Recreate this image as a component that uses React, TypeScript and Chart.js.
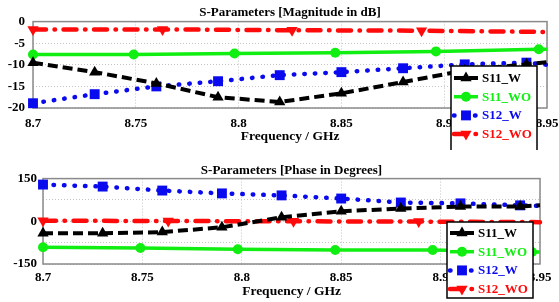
import { useEffect, useRef } from 'react';
import { Chart, registerables } from 'chart.js';

Chart.register(...registerables);

// ---------- data ----------
const freqW = [8.7, 8.73, 8.76, 8.79, 8.82, 8.85, 8.88, 8.91, 8.94, 8.95];
const freqWO11 = [8.7, 8.749, 8.798, 8.847, 8.896, 8.946, 8.95];
const freqWO12 = [8.7, 8.763, 8.826, 8.889, 8.95];

const magS11W = [-9.5, -11.7, -14.3, -17.5, -18.6, -16.6, -14.0, -11.3, -9.9, -9.4];
const magS11WO = [-7.6, -7.6, -7.4, -7.2, -6.9, -6.4, -6.4];
const magS12W = [-18.9, -16.8, -15.0, -13.8, -12.4, -11.7, -10.8, -9.9, -9.5, -10.0];
const magS12WO = [-1.8, -1.8, -2.0, -2.1, -2.4];

const phS11W = [-42, -42, -38, -21, 14, 35, 45, 52, 52, 56];
const phS11WO = [-91, -94, -98, -101, -101, -108, -108];
const phS12W = [129, 122, 108, 98, 91, 80, 66, 63, 56, 54];
const phS12WO = [2, 1, 0, -1, -3];

const freqTicks = [8.7, 8.75, 8.8, 8.85, 8.9, 8.95];
const magTicks = [0, -5, -10, -15, -20];
const phaseTickLabels = [150, 0, -150];

const seriesNames = ['S11_W', 'S11_WO', 'S12_W', 'S12_WO'];
const titleMag = 'S-Parameters [Magnitude in dB]';
const titlePhase = 'S-Parameters [Phase in Degrees]';
const xTitle = 'Frequency / GHz';

// ---------- styles ----------
const FONT = '"Liberation Serif", "Times New Roman", serif';
const BLACK = '#000000';
const GREEN = '#11ee11';
const BLUE = '#0a0aee';
const RED = '#ff0a0a';

const pts = (xs: number[], ys: number[]) => xs.map((x, i) => ({ x, y: ys[i] }));

function makeDatasets(s11w: number[], s11wo: number[], s12w: number[], s12wo: number[]) {
  const lastless = (r: number) => (c: any) => (c.dataIndex === c.dataset.data.length - 1 ? 0 : r);
  return [
    {
      label: seriesNames[0], data: pts(freqW, s11w), borderColor: BLACK, backgroundColor: BLACK,
      borderWidth: 4, borderDash: [10, 5], borderCapStyle: 'butt',
      pointStyle: 'triangle', pointRadius: lastless(6.5), pointRotation: 0, mr: 6.5,
    },
    {
      label: seriesNames[1], data: pts(freqWO11, s11wo), borderColor: GREEN, backgroundColor: GREEN,
      borderWidth: 3.5, borderDash: [], borderCapStyle: 'butt',
      pointStyle: 'circle', pointRadius: lastless(5), pointRotation: 0, mr: 5,
    },
    {
      label: seriesNames[2], data: pts(freqW, s12w), borderColor: BLUE, backgroundColor: BLUE,
      borderWidth: 4.5, borderDash: [0.5, 10], borderCapStyle: 'round',
      pointStyle: 'rect', pointRadius: lastless(7), pointRotation: 0, mr: 7,
    },
    {
      label: seriesNames[3], data: pts(freqWO12, s12wo), borderColor: RED, backgroundColor: RED,
      borderWidth: 4.5, borderDash: [13, 8.5, 0.5, 8.5], borderCapStyle: 'round',
      pointStyle: 'triangle', pointRadius: lastless(6.5), pointRotation: 180, mr: 6.5,
    },
  ].map((d) => ({ ...d, tension: 0, fill: false, clip: false, pointBorderWidth: 0, pointBorderColor: d.borderColor, pointBackgroundColor: d.borderColor }));
}

function drawMarker(ctx: CanvasRenderingContext2D, style: string, x: number, y: number, r: number, rot: number) {
  ctx.beginPath();
  if (style === 'circle') {
    ctx.arc(x, y, r, 0, Math.PI * 2);
  } else if (style === 'rect') {
    const s = Math.SQRT1_2 * r;
    ctx.rect(x - s, y - s, 2 * s, 2 * s);
  } else {
    let rad = (rot * Math.PI) / 180;
    ctx.moveTo(x + Math.sin(rad) * r, y - Math.cos(rad) * r);
    rad += (2 * Math.PI) / 3;
    ctx.lineTo(x + Math.sin(rad) * r, y - Math.cos(rad) * r);
    rad += (2 * Math.PI) / 3;
    ctx.lineTo(x + Math.sin(rad) * r, y - Math.cos(rad) * r);
    ctx.closePath();
  }
  ctx.fill();
}

const framePlugin = {
  id: 'plotFrame',
  beforeDatasetsDraw(chart: any) {
    const { ctx, chartArea: a } = chart;
    ctx.save();
    ctx.strokeStyle = '#8a8a8a';
    ctx.lineWidth = 1.5;
    ctx.setLineDash([]);
    ctx.strokeRect(a.left, a.top, a.right - a.left, a.bottom - a.top);
    ctx.restore();
  },
};

const boxLegendPlugin = {
  id: 'boxLegend',
  afterDraw(chart: any, _args: any, o: any) {
    const ctx: CanvasRenderingContext2D = chart.ctx;
    ctx.save();
    ctx.fillStyle = '#ffffff';
    ctx.fillRect(o.x, o.y, o.w, o.h);
    ctx.strokeStyle = '#000000';
    ctx.lineWidth = 1.5;
    ctx.setLineDash([]);
    ctx.strokeRect(o.x, o.y, o.w, o.h);
    chart.data.datasets.forEach((ds: any, i: number) => {
      const cy = o.y + o.first + i * o.rowH;
      const x0 = o.x + 3;
      const x1 = o.x + 27;
      ctx.strokeStyle = ds.borderColor;
      ctx.lineWidth = ds.borderWidth;
      ctx.lineCap = ds.borderCapStyle;
      ctx.setLineDash(ds.borderDash || []);
      ctx.beginPath();
      ctx.moveTo(x0, cy);
      ctx.lineTo(x1, cy);
      ctx.stroke();
      ctx.setLineDash([]);
      ctx.fillStyle = ds.borderColor;
      drawMarker(ctx, ds.pointStyle, (x0 + x1) / 2, cy, ds.mr, ds.pointRotation);
      ctx.font = `bold 13px ${FONT}`;
      ctx.textAlign = 'left';
      ctx.textBaseline = 'middle';
      ctx.fillText(ds.label, o.x + 31, cy + 0.5);
    });
    ctx.restore();
  },
};

type PanelCfg = {
  width: number;
  height: number;
  title: string;
  titlePad: { top: number; bottom: number };
  yMin: number;
  yMax: number;
  yStep: number;
  yLabels: number[];
  yAxisWidth: number;
  yPad: number;
  xAxisHeight: number;
  xPad: number;
  xTitlePad: number;
  rightPad: number;
  legend: { x: number; y: number; w: number; h: number; first: number; rowH: number };
  datasets: any[];
};

function Panel({ cfg }: { cfg: PanelCfg }) {
  const ref = useRef<HTMLCanvasElement | null>(null);
  useEffect(() => {
    if (!ref.current) return;
    const chart = new Chart(ref.current, {
      type: 'line',
      data: { datasets: cfg.datasets },
      plugins: [framePlugin, boxLegendPlugin],
      options: {
        responsive: false,
        animation: false,
        layout: { padding: { left: 0, right: cfg.rightPad, top: 0, bottom: 0 } },
        plugins: {
          legend: { display: false },
          tooltip: { enabled: false },
          title: {
            display: true,
            text: cfg.title,
            fullSize: false,
            color: '#000',
            font: { family: FONT, size: 13, weight: 'bold' },
            padding: cfg.titlePad,
          },
          boxLegend: cfg.legend,
        } as any,
        scales: {
          x: {
            type: 'linear',
            min: freqTicks[0],
            max: freqTicks[freqTicks.length - 1],
            afterBuildTicks: (s: any) => {
              s.ticks = freqTicks.map((v) => ({ value: v }));
            },
            afterFit: (s: any) => {
              s.height = cfg.xAxisHeight;
              s.paddingLeft = 0;
              s.paddingRight = 0;
            },
            grid: { color: '#c4c4c4', lineWidth: 1, drawTicks: false },
            border: { display: false, dash: [1, 2] },
            ticks: {
              padding: cfg.xPad,
              color: '#000',
              font: { family: FONT, size: 13, weight: 'bold' },
              maxRotation: 0,
              autoSkip: false,
              callback: (v: any) => String(Number(Number(v).toFixed(2))),
            },
            title: {
              display: true,
              text: xTitle,
              color: '#000',
              font: { family: FONT, size: 13.5, weight: 'bold' },
              padding: { top: 0, bottom: cfg.xTitlePad },
            },
          },
          y: {
            type: 'linear',
            min: cfg.yMin,
            max: cfg.yMax,
            afterFit: (s: any) => {
              s.width = cfg.yAxisWidth;
              s.paddingTop = 0;
              s.paddingBottom = 0;
            },
            grid: { color: '#c4c4c4', lineWidth: 1, drawTicks: false },
            border: { display: false, dash: [1, 2] },
            ticks: {
              stepSize: cfg.yStep,
              padding: cfg.yPad,
              color: '#000',
              font: { family: FONT, size: 13, weight: 'bold' },
              autoSkip: false,
              callback: (v: any) => (cfg.yLabels.includes(Number(v)) ? String(v) : ''),
            },
          },
        },
      } as any,
    });
    return () => chart.destroy();
  }, [cfg]);
  return <canvas ref={ref} width={cfg.width} height={cfg.height} style={{ display: 'block', width: cfg.width, height: cfg.height }} />;
}

const magCfg: PanelCfg = {
  width: 559,
  height: 150,
  title: titleMag,
  titlePad: { top: 5, bottom: 1 },
  yMin: -20,
  yMax: 0,
  yStep: 5,
  yLabels: magTicks,
  yAxisWidth: 33,
  yPad: 8,
  xAxisHeight: 42,
  xPad: 8,
  xTitlePad: 5,
  rightPad: 12,
  legend: { x: 451, y: 66, w: 86, h: 100, first: 12, rowH: 18.7 },
  datasets: makeDatasets(magS11W, magS11WO, magS12W, magS12WO),
};

const phaseCfg: PanelCfg = {
  width: 559,
  height: 152,
  title: titlePhase,
  titlePad: { top: 13, bottom: 0 },
  yMin: -150,
  yMax: 150,
  yStep: 75,
  yLabels: phaseTickLabels,
  yAxisWidth: 43,
  yPad: 6,
  xAxisHeight: 38,
  xPad: 6,
  xTitlePad: 2,
  rightPad: 19,
  legend: { x: 447, y: 72, w: 86, h: 76, first: 11, rowH: 18.7 },
  datasets: makeDatasets(phS11W, phS11WO, phS12W, phS12WO),
};

export default function App() {
  return (
    <div style={{ position: 'absolute', left: 0, top: 0, width: 559, height: 302, background: '#fff' }}>
      <Panel cfg={magCfg} />
      <Panel cfg={phaseCfg} />
    </div>
  );
}
